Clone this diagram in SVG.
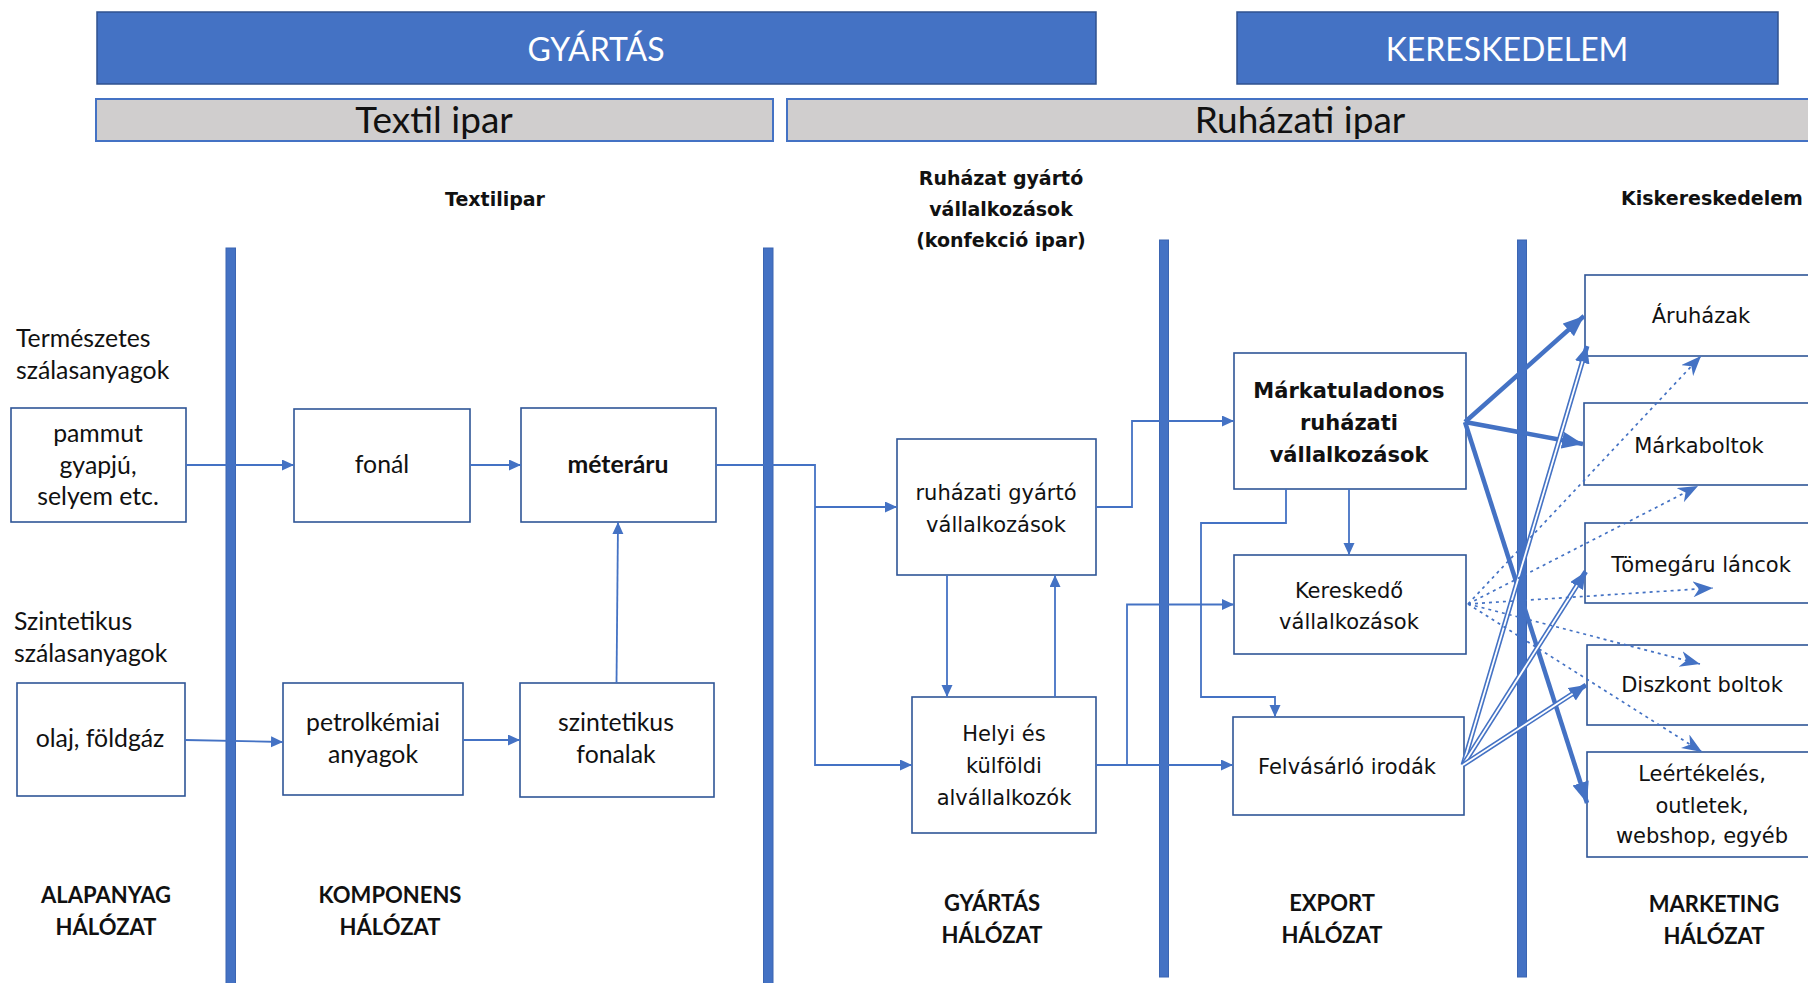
<svg xmlns="http://www.w3.org/2000/svg" width="1808" height="983" viewBox="0 0 1808 983">
  <style>
    .bg { fill: #ffffff; }
    .band { fill: #4472C4; stroke: #2F528F; stroke-width: 1.5; }
    .sub { fill: #D0CECE; stroke: #4472C4; stroke-width: 2; }
    .bar { fill: #4472C4; stroke: #3B65B2; stroke-width: 1; }
    .box { fill: none; stroke: #2F5597; stroke-width: 1.6; }
    .cal { font-family: Lato, "Liberation Sans", sans-serif; fill: #111; }
    .ver { font-family: "DejaVu Sans", "Liberation Sans", sans-serif; fill: #111; }
    .band-t { font-family: Lato, "Liberation Sans", sans-serif; fill: #ffffff; font-size: 32px; text-anchor: middle; }
    .sub-t { font-size: 37px; text-anchor: middle; }
    .lt { font-size: 24.8px; }
    .mid { text-anchor: middle; }
    .hd { font-size: 19px; font-weight: bold; text-anchor: middle; }
    .bx { font-size: 21px; text-anchor: middle; }
    .net { font-size: 22px; font-weight: bold; text-anchor: middle; }
    .c { fill: none; stroke: #4472C4; stroke-width: 1.8; }
    .thick { fill: none; stroke: #4472C4; stroke-width: 4.5; }
    .dbl-o { fill: none; stroke: #4472C4; stroke-width: 5; }
    .dbl-i { fill: none; stroke: #ffffff; stroke-width: 1.8; }
    .dot { fill: none; stroke: #4472C4; stroke-width: 1.7; stroke-dasharray: 3 4; }
  </style>
  <defs>
    <marker id="ah" markerUnits="userSpaceOnUse" markerWidth="13" markerHeight="12" refX="12" refY="5.5" orient="auto">
      <path d="M0,0 L12,5.5 L0,11 Z" fill="#4472C4"/>
    </marker>
    <marker id="ahBig" markerUnits="userSpaceOnUse" markerWidth="22" markerHeight="18" refX="21" refY="8.5" orient="auto">
      <path d="M0,0 L21,8.5 L0,17 Z" fill="#4472C4"/>
    </marker>
    <marker id="ahDbl" markerUnits="userSpaceOnUse" markerWidth="18" markerHeight="16" refX="17" refY="7.5" orient="auto">
      <path d="M0,0 L17,7.5 L0,15 Z" fill="#4472C4"/>
    </marker>
    <marker id="ahStealth" markerUnits="userSpaceOnUse" markerWidth="21" markerHeight="17" refX="20" refY="8" orient="auto">
      <path d="M0,0 L20,8 L0,16 L6,8 Z" fill="#4472C4"/>
    </marker>
  </defs>

  <rect class="bg" x="0" y="0" width="1808" height="983"/>

  <!-- top bands -->
  <g id="band-gyartas">
    <rect class="band" x="97" y="12" width="999" height="72"/>
    <text class="band-t" x="596" y="61">GYÁRTÁS</text>
  </g>
  <g id="band-kereskedelem">
    <rect class="band" x="1237" y="12" width="541" height="72"/>
    <text class="band-t" x="1507" y="61">KERESKEDELEM</text>
  </g>
  <g id="band-textil">
    <rect class="sub" x="96" y="99" width="677" height="42"/>
    <text class="cal sub-t" x="434" y="133">Textil ipar</text>
  </g>
  <g id="band-ruhazati">
    <rect class="sub" x="787" y="99" width="1040" height="42"/>
    <text class="cal sub-t" x="1300" y="133">Ruházati ipar</text>
  </g>

  <!-- stage dividers -->
  <g id="dividers">
    <rect class="bar" x="226" y="248" width="9.5" height="740"/>
    <rect class="bar" x="763.5" y="248" width="9.5" height="740"/>
    <rect class="bar" x="1159.5" y="240" width="9" height="737"/>
    <rect class="bar" x="1517.5" y="240" width="9" height="737"/>
  </g>

  <!-- column headings -->
  <g id="heading-textilipar">
    <text class="ver hd" x="495" y="206">Textilipar</text>
  </g>
  <g id="heading-konfekcio">
    <text class="ver hd" x="1001" y="185">Ruházat gyártó</text>
    <text class="ver hd" x="1001" y="216">vállalkozások</text>
    <text class="ver hd" x="1001" y="247">(konfekció ipar)</text>
  </g>
  <g id="heading-kisker">
    <text class="ver hd" x="1712" y="205">Kiskereskedelem</text>
  </g>

  <!-- raw material labels -->
  <g id="label-termeszetes">
    <text class="cal lt" x="16" y="347">Természetes</text>
    <text class="cal lt" x="16" y="379">szálasanyagok</text>
  </g>
  <g id="label-szintetikus">
    <text class="cal lt" x="14" y="630">Szintetikus</text>
    <text class="cal lt" x="14" y="662">szálasanyagok</text>
  </g>

  <!-- textile nodes -->
  <g id="node-pammut">
    <rect class="box" x="11" y="408" width="175" height="114"/>
    <text class="cal lt mid" x="98" y="442">pammut</text>
    <text class="cal lt mid" x="98" y="474">gyapjú,</text>
    <text class="cal lt mid" x="98" y="505">selyem etc.</text>
  </g>
  <g id="node-olaj">
    <rect class="box" x="17" y="683" width="168" height="113"/>
    <text class="cal lt mid" x="100" y="747">olaj, földgáz</text>
  </g>
  <g id="node-fonal">
    <rect class="box" x="294" y="409" width="176" height="113"/>
    <text class="cal lt mid" x="382" y="473">fonál</text>
  </g>
  <g id="node-meteraru">
    <rect class="box" x="521" y="408" width="195" height="114"/>
    <text class="cal lt mid" x="618" y="473" font-weight="bold">méteráru</text>
  </g>
  <g id="node-petrolkemiai">
    <rect class="box" x="283" y="683" width="180" height="112"/>
    <text class="cal lt mid" x="373" y="731">petrolkémiai</text>
    <text class="cal lt mid" x="373" y="763">anyagok</text>
  </g>
  <g id="node-szintetikus-fonalak">
    <rect class="box" x="520" y="683" width="194" height="114"/>
    <text class="cal lt mid" x="616" y="731">szintetikus</text>
    <text class="cal lt mid" x="616" y="763">fonalak</text>
  </g>

  <!-- clothing manufacturing nodes -->
  <g id="node-ruhazati-gyarto">
    <rect class="box" x="897" y="439" width="199" height="136"/>
    <text class="ver bx" x="996" y="500">ruházati gyártó</text>
    <text class="ver bx" x="996" y="532">vállalkozások</text>
  </g>
  <g id="node-alvallalkozok">
    <rect class="box" x="912" y="697" width="184" height="136"/>
    <text class="ver bx" x="1004" y="741">Helyi és</text>
    <text class="ver bx" x="1004" y="773">külföldi</text>
    <text class="ver bx" x="1004" y="805">alvállalkozók</text>
  </g>

  <!-- export nodes -->
  <g id="node-markatulajdonos">
    <rect class="box" x="1234" y="353" width="232" height="136"/>
    <text class="ver bx" x="1349" y="398" font-weight="bold" font-size="19">Márkatuladonos</text>
    <text class="ver bx" x="1349" y="430" font-weight="bold" font-size="19">ruházati</text>
    <text class="ver bx" x="1349" y="462" font-weight="bold" font-size="19">vállalkozások</text>
  </g>
  <g id="node-kereskedo">
    <rect class="box" x="1234" y="555" width="232" height="99"/>
    <text class="ver bx" x="1349" y="598">Kereskedő</text>
    <text class="ver bx" x="1349" y="629">vállalkozások</text>
  </g>
  <g id="node-felvasarlo">
    <rect class="box" x="1233" y="717" width="231" height="98"/>
    <text class="ver bx" x="1347" y="774">Felvásárló irodák</text>
  </g>

  <!-- retail nodes -->
  <g id="node-aruhazak">
    <rect class="box" x="1585" y="275" width="240" height="81"/>
    <text class="ver bx" x="1701" y="323">Áruházak</text>
  </g>
  <g id="node-markaboltok">
    <rect class="box" x="1584" y="403" width="240" height="82"/>
    <text class="ver bx" x="1699" y="453">Márkaboltok</text>
  </g>
  <g id="node-tomegaru">
    <rect class="box" x="1585" y="523" width="240" height="80"/>
    <text class="ver bx" x="1701" y="572">Tömegáru láncok</text>
  </g>
  <g id="node-diszkont">
    <rect class="box" x="1587" y="645" width="240" height="80"/>
    <text class="ver bx" x="1702" y="692">Diszkont boltok</text>
  </g>
  <g id="node-leertekeles">
    <rect class="box" x="1587" y="752" width="240" height="105"/>
    <text class="ver bx" x="1702" y="781">Leértékelés,</text>
    <text class="ver bx" x="1702" y="813">outletek,</text>
    <text class="ver bx" x="1702" y="843">webshop, egyéb</text>
  </g>

  <!-- network labels -->
  <g id="label-alapanyag">
    <text class="cal net" x="106" y="903">ALAPANYAG</text>
    <text class="cal net" x="106" y="935">HÁLÓZAT</text>
  </g>
  <g id="label-komponens">
    <text class="cal net" x="390" y="903">KOMPONENS</text>
    <text class="cal net" x="390" y="935">HÁLÓZAT</text>
  </g>
  <g id="label-gyartas">
    <text class="cal net" x="992" y="911">GYÁRTÁS</text>
    <text class="cal net" x="992" y="943">HÁLÓZAT</text>
  </g>
  <g id="label-export">
    <text class="cal net" x="1332" y="911">EXPORT</text>
    <text class="cal net" x="1332" y="943">HÁLÓZAT</text>
  </g>
  <g id="label-marketing">
    <text class="cal net" x="1714" y="912">MARKETING</text>
    <text class="cal net" x="1714" y="944">HÁLÓZAT</text>
  </g>

  <!-- connectors -->
  <g id="connectors">
    <!-- textile chain -->
    <path class="c" d="M186,465 H294" marker-end="url(#ah)"/>
    <path class="c" d="M470,465 H521" marker-end="url(#ah)"/>
    <path class="c" d="M185,740 L283,742" marker-end="url(#ah)"/>
    <path class="c" d="M463,740 H520" marker-end="url(#ah)"/>
    <path class="c" d="M616.5,683 L618,522" marker-end="url(#ah)"/>

    <!-- fabric to clothing manufacturing -->
    <path class="c" d="M716,465 H815 V765 H912" marker-end="url(#ah)"/>
    <path class="c" d="M815,507 H897" marker-end="url(#ah)"/>
    <path class="c" d="M947,575 V697" marker-end="url(#ah)"/>
    <path class="c" d="M1055,697 V575" marker-end="url(#ah)"/>

    <!-- manufacturing to export -->
    <path class="c" d="M1096,507 H1132 V421 H1234" marker-end="url(#ah)"/>
    <path class="c" d="M1096,765 H1233" marker-end="url(#ah)"/>
    <path class="c" d="M1127,765 V604.5 H1234" marker-end="url(#ah)"/>
    <path class="c" d="M1349,489 V555" marker-end="url(#ah)"/>
    <path class="c" d="M1286,489 V523 H1201 V697 H1275 V717" marker-end="url(#ah)"/>

    <!-- brand owners to retail (thick) -->
    <path class="thick" d="M1465,422 L1584,316" marker-end="url(#ahBig)"/>
    <path class="thick" d="M1465,422 L1583,444" marker-end="url(#ahBig)"/>
    <path class="thick" d="M1465,422 L1587,803" marker-end="url(#ahBig)"/>

    <!-- buying offices to retail (double line) -->
    <path class="dbl-o" d="M1463,765 L1587,346" marker-end="url(#ahDbl)"/>
    <path class="dbl-i" d="M1463,765 L1582.5,361.3"/>
    <path class="dbl-o" d="M1463,765 L1585.7,571.7" marker-end="url(#ahDbl)"/>
    <path class="dbl-i" d="M1463,765 L1577.1,585.2"/>
    <path class="dbl-o" d="M1463,765 L1586,685" marker-end="url(#ahDbl)"/>
    <path class="dbl-i" d="M1463,765 L1572.6,693.7"/>

    <!-- traders to retail (dotted) -->
    <path class="dot" d="M1468,604 L1701,356" marker-end="url(#ahStealth)"/>
    <path class="dot" d="M1468,604 L1698,486" marker-end="url(#ahStealth)"/>
    <path class="dot" d="M1468,604 L1713,588" marker-end="url(#ahStealth)"/>
    <path class="dot" d="M1468,604 L1700,664" marker-end="url(#ahStealth)"/>
    <path class="dot" d="M1468,604 L1702,752" marker-end="url(#ahStealth)"/>
  </g>
</svg>
